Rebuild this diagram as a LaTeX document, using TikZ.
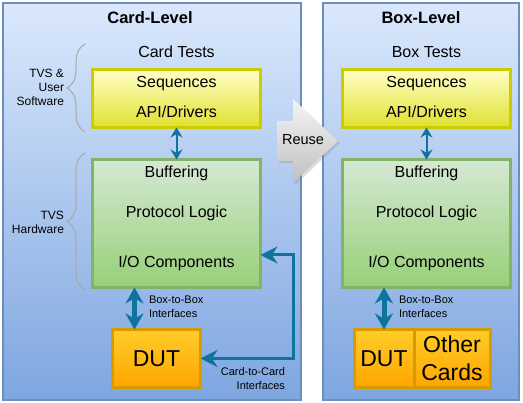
\documentclass[tikz,border=0pt]{standalone}
\usepackage{fontspec}
\setmainfont{Liberation Sans}
\usetikzlibrary{positioning,arrows.meta,decorations.pathreplacing,shadows}
\definecolor{panelTop}{HTML}{DAE8FC}
\definecolor{panelBot}{HTML}{7EA6E0}
\definecolor{panelLine}{HTML}{6C8EBF}
\definecolor{swTop}{HTML}{FFFFC8}
\definecolor{swBot}{HTML}{E0E030}
\definecolor{swLine}{HTML}{CCCC00}
\definecolor{hwTop}{HTML}{D5E8D4}
\definecolor{hwBot}{HTML}{97D077}
\definecolor{hwLine}{HTML}{82B366}
\definecolor{dutTop}{HTML}{FFCD28}
\definecolor{dutBot}{HTML}{FFA500}
\definecolor{dutLine}{HTML}{D79B00}
\definecolor{linkCol}{HTML}{10739E}
\definecolor{braceCol}{HTML}{A8A8A8}
\begin{document}
\begin{tikzpicture}[x=1pt,y=-1pt,>=Stealth,
    every node/.style={inner sep=0pt,outer sep=0pt},
    panel/.style={draw=panelLine,line width=2pt,top color=panelTop,bottom color=panelBot,minimum height=397pt},
    swbox/.style={draw=swLine,line width=3pt,top color=swTop,bottom color=swBot,minimum width=168pt,minimum height=58pt},
    hwbox/.style={draw=hwLine,line width=3pt,top color=hwTop,bottom color=hwBot,minimum width=168pt,minimum height=128pt},
    dutbox/.style={draw=dutLine,line width=3pt,top color=dutTop,bottom color=dutBot,minimum height=58pt,font=\fontsize{23}{28}\selectfont},
    paneltitle/.style={font=\fontsize{16.5}{19}\selectfont\bfseries,text height=11.8pt,text depth=0pt},
    boxtext/.style={font=\fontsize{16}{19}\selectfont,text height=11.5pt,text depth=0pt},
    sidenote/.style={font=\fontsize{12}{14}\selectfont,align=right,anchor=east},
    ifnote/.style={font=\fontsize{11}{14}\selectfont},
    link/.style={draw=linkCol},
    tvsbrace/.style={draw=braceCol,line width=1pt,decorate,decoration={brace,amplitude=18pt}},
    reusearrow/.style={top color=gray!8,bottom color=gray!50,drop shadow={opacity=0.25,shadow xshift=2pt,shadow yshift=-2pt}}]
    \useasboundingbox (0,0) rectangle (523,403);
    % panels
    \node[panel,minimum width=298pt] (cardPanel) at (152,201.5) {};
    \node[panel,minimum width=196pt] (boxPanel) at (421,201.5) {};
    \node[paneltitle] (cardTitle) at (150,18) {Card-Level};
    \node[paneltitle] (boxTitle) at (421,18) {Box-Level};
    % card level
    \node[boxtext] (cardTests) at (176.5,52) {Card Tests};
    \node[swbox] (cardSw) at (176.5,98.5) {};
    \node[boxtext] (cardSeq) at (176.5,82) {Sequences};
    \node[boxtext] (cardApi) at (176.5,112) {API/Drivers};
    \node[hwbox] (cardHw) at (176.5,223.5) {};
    \node[boxtext] (cardBuf) at (176.5,172) {Buffering};
    \node[boxtext] (cardProt) at (176.5,212) {Protocol Logic};
    \node[boxtext] (cardIo) at (176.5,262) {I/O Components};
    \node[dutbox,minimum width=88pt] (cardDut) at (156.5,358.5) {DUT};
    \node[sidenote] (cardSwNote) at (64,87) {TVS \&\\User\\Software};
    \node[sidenote] (cardHwNote) at (64,222) {TVS\\Hardware};
    \draw[tvsbrace] (85,132) -- (85,44);
    \draw[tvsbrace] (85,290) -- (85,153);
    \draw[link,line width=2pt,{Stealth[length=10pt,width=12pt]}-{Stealth[length=10pt,width=12pt]}] (cardSw) -- (cardHw);
    \path ([xshift=22pt]cardDut.north west) coordinate (cardB2B);
    \draw[link,line width=5pt,{Stealth[length=16pt,width=18pt]}-{Stealth[length=16pt,width=18pt]}] (cardB2B) -- (cardB2B |- cardHw.south);
    \node[ifnote,anchor=west,align=left] (cardB2BText) at (149,307) {Box-to-Box\\Interfaces};
    \coordinate (cardC2C) at (293,255);
    \draw[link,line width=3pt,{Stealth[length=17pt,width=17pt]}-{Stealth[length=17pt,width=17pt]}] (cardDut.east) -| (cardC2C) -- (cardC2C -| cardHw.east);
    \node[ifnote,anchor=east,align=right] (cardC2CText) at (285,379) {Card-to-Card\\Interfaces};
    % box level
    \node[boxtext] (boxTests) at (426.5,52) {Box Tests};
    \node[swbox] (boxSw) at (426.5,98.5) {};
    \node[boxtext] (boxSeq) at (426.5,82) {Sequences};
    \node[boxtext] (boxApi) at (426.5,112) {API/Drivers};
    \node[hwbox] (boxHw) at (426.5,223.5) {};
    \node[boxtext] (boxBuf) at (426.5,172) {Buffering};
    \node[boxtext] (boxProt) at (426.5,212) {Protocol Logic};
    \node[boxtext] (boxIo) at (426.5,262) {I/O Components};
    \node[dutbox,minimum width=60pt] (boxDut) at (384,358.5) {DUT};
    \node[dutbox,minimum width=76pt,align=center,right=0pt of boxDut] (otherCards) {Other\\Cards};
    \draw[link,line width=2pt,{Stealth[length=10pt,width=12pt]}-{Stealth[length=10pt,width=12pt]}] (boxSw) -- (boxHw);
    \draw[link,line width=5pt,{Stealth[length=16pt,width=18pt]}-{Stealth[length=16pt,width=18pt]}] (boxDut.north) -- (boxDut.north |- boxHw.south);
    \node[ifnote,anchor=west,align=left] (boxB2BText) at (399,307) {Box-to-Box\\Interfaces};
    % reuse
    \path[reusearrow] (277,121) -- (293,121) -- (293,99) -- (338,141) -- (293,183) -- (293,161) -- (277,161) -- cycle;
    \node[font=\fontsize{14.5}{17}\selectfont] (reuseText) at (303,140) {Reuse};
\end{tikzpicture}
\end{document}
